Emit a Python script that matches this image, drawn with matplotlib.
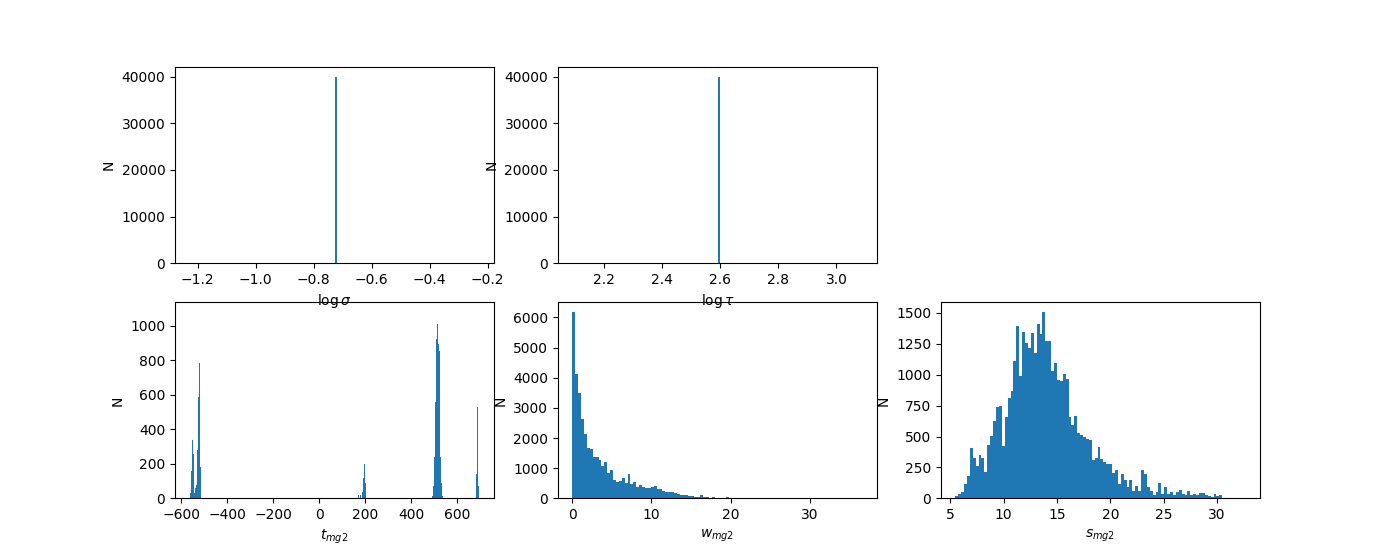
import numpy as np
import matplotlib.pyplot as plt

n_samples = 40000

# the two fixed parameters (all samples identical)
log_sigma = -0.728
log_tau = 2.59

# t_mg2 : narrow bins
t_values = [-560.0, -555.7, -551.3, -547.0, -542.6, -538.3, -533.9, -529.6, -525.3, -520.9, -516.6,
            170.4, 179.1, 187.8, 192.2, 196.5, 200.9, 205.2,
            492.2, 496.5, 500.9, 505.2, 509.6, 513.9, 518.3, 522.6, 526.9, 531.3, 535.6,
            679.2, 683.5, 687.9, 692.2]
t_counts = [33, 160, 341, 259, 33, 60, 75, 280, 590, 787, 180,
            19, 19, 37, 120, 200, 90, 4,
            13, 71, 240, 556, 926, 1008, 897, 856, 240, 91, 13,
            4, 143, 531, 71]
t_range = (-564, 697)
t_bins = 290
t_ymax = 1136

# w_mg2 : 100 bins
w_range = (0.0, 36.7)
w_counts = [6190, 4126, 3494, 2640, 2130, 1664, 1630, 1375, 1375, 1265,
            1076, 1209, 843, 932, 599, 544, 577, 666, 510, 810,
            477, 532, 366, 433, 366, 333, 333, 366, 399, 311,
            300, 244, 225, 225, 200, 190, 155, 100, 100, 100,
            70, 80, 40, 30, 110, 35, 35, 15, 40, 10,
            15, 10, 20, 45, 5, 8, 6, 3, 4, 2,
            2, 1, 2, 1, 0, 1, 0, 1, 0, 0,
            1, 0, 0, 0, 1, 0, 0, 0, 0, 0,
            0, 0, 1, 0, 0, 0, 0, 0, 0, 0,
            0, 0, 0, 0, 0, 0, 0, 0, 0, 1]

# s_mg2 : 100 bins
s_range = (5.49, 32.67)
s_counts = [16, 32, 49, 114, 178, 405, 324, 260, 349, 324,
            211, 430, 503, 624, 738, 746, 422, 657, 811, 868,
            1111, 1395, 989, 1346, 1257, 1217, 1338, 1176, 1411, 1330,
            1508, 1273, 1273, 1030, 1095, 957, 949, 1006, 965, 657,
            592, 665, 527, 511, 497, 478, 470, 308, 324, 414,
            316, 292, 276, 276, 203, 227, 114, 195, 146, 89,
            146, 57, 97, 57, 227, 195, 89, 57, 24, 49,
            122, 32, 89, 32, 49, 24, 49, 65, 32, 24,
            57, 24, 32, 24, 41, 41, 24, 16, 8, 32,
            16, 24, 3, 2, 2, 1, 0, 1, 0, 1]


def hist_from_counts(ax, counts, value_range):
    edges = np.linspace(value_range[0], value_range[1], len(counts) + 1)
    ax.hist(edges[:-1], bins=edges, weights=counts)


fig, axes = plt.subplots(2, 3, figsize=(14, 5.6), dpi=100)

ax = axes[0, 0]
ax.hist([log_sigma], bins=100, weights=[n_samples])
ax.set_xlabel(r'$\log\sigma$')
ax.set_ylabel('N')
ax.set_zorder(2)

ax = axes[0, 1]
ax.hist([log_tau], bins=100, weights=[n_samples])
ax.set_xlabel(r'$\log\tau$')
ax.set_ylabel('N')
ax.set_zorder(2)

axes[0, 2].axis('off')

ax = axes[1, 0]
ax.hist(t_values, bins=t_bins, range=t_range, weights=t_counts)
ax.set_ylim(0, t_ymax)
ax.set_xlabel(r'$t_{mg2}$')
ax.set_ylabel('N')

ax = axes[1, 1]
hist_from_counts(ax, w_counts, w_range)
ax.set_xlabel(r'$w_{mg2}$')
ax.set_ylabel('N')

ax = axes[1, 2]
hist_from_counts(ax, s_counts, s_range)
ax.set_xlabel(r'$s_{mg2}$')
ax.set_ylabel('N')

plt.savefig('out.png')
